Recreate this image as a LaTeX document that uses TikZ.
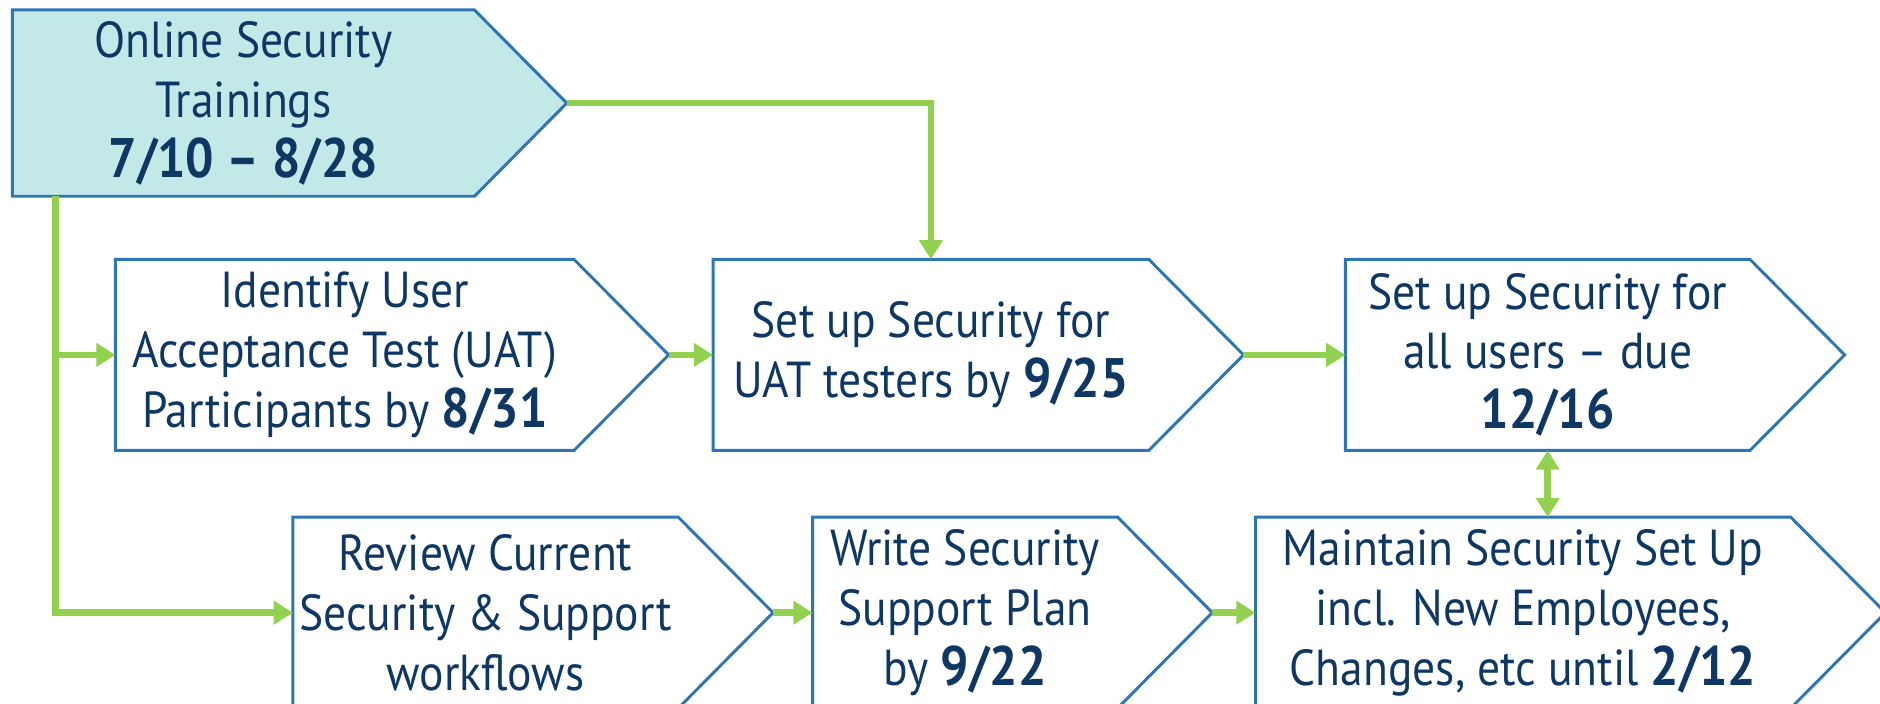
\documentclass[tikz,border=0pt]{standalone}
\usepackage{fontspec}
\setmainfont{PT Sans}[FakeStretch=0.9]
\usetikzlibrary{arrows.meta, positioning, calc, backgrounds}
\definecolor{navytext}{RGB}{14,55,100}
\definecolor{edgeblue}{RGB}{46,117,182}
\definecolor{paleteal}{RGB}{194,233,232}
\definecolor{limegreen}{RGB}{146,208,80}
\newcommand{\due}[1]{{\fontsize{13.2}{14.2}\selectfont\bfseries #1}}

\begin{document}
\begin{tikzpicture}[
    stepbox/.style={
      rectangle,
      inner sep=0pt,
      minimum height=1.58cm,
      align=center,
      text=navytext,
      font=\fontsize{12}{14.2}\selectfont
    },
    chev/.style={draw=edgeblue, line width=0.7pt},
    flow/.style={-{Triangle[length=1.6mm,width=1.9mm]}, line width=1.6pt, draw=limegreen}
]
\useasboundingbox (0,0) rectangle (15.68,-5.87);

\node[stepbox, minimum width=3.84cm, minimum height=1.54cm] (train) at (2.03,-0.86)
  {Online Security\\Trainings\\\due{7/10 -- 8/28}};

% middle row
\node[stepbox, minimum width=3.81cm] (uat) at (2.875,-2.96)
  {Identify User\\Acceptance Test (UAT)\\Participants by \due{8/31}};
\node[stepbox, minimum width=3.62cm, right=1.16cm of uat] (uatsec)
  {Set up Security for\\UAT testers by \due{9/25}};
\node[stepbox, minimum width=3.36cm, right=1.64cm of uatsec] (allsec)
  {Set up Security for\\all users -- due\\\due{12/16}};

% bottom row
\node[stepbox, minimum width=3.20cm] (review) at (4.05,-5.11)
  {Review Current\\Security \& Support\\workflows};
\node[stepbox, minimum width=2.53cm, right=1.12cm of review] (plan)
  {Write Security\\Support Plan\\by \due{9/22}};
\node[stepbox, minimum width=4.45cm, right=1.15cm of plan] (maint)
  {Maintain Security Set Up\\incl. New Employees,\\Changes, etc until \due{2/12}};

\foreach \n in {uat,uatsec,allsec,review,plan,maint}
  \coordinate (\n-tip) at ($(\n.east)+(0.79,0)$);
\coordinate (train-tip) at ($(train.east)+(0.77,0)$);
\coordinate (trunk) at ($(train.south west)+(0.36,0)$);

\begin{scope}[on background layer]
\filldraw[chev, fill=paleteal] (train.north west) -- (train.north east) -- (train-tip)
  -- (train.south east) -- (train.south west) -- cycle;
\foreach \n in {uat,uatsec,allsec,review,plan,maint}
  \filldraw[chev, fill=white] (\n.north west) -- (\n.north east) -- (\n-tip)
    -- (\n.south east) -- (\n.south west) -- cycle;
\end{scope}

\draw[flow] (train-tip) -| (uatsec.north);
\draw[flow] (trunk) |- (uat.west);
\draw[flow] (trunk) |- (review.west);
\draw[flow] (uat-tip) -- (uatsec.west);
\draw[flow] (uatsec-tip) -- (allsec.west);
\draw[flow] (review-tip) -- (plan.west);
\draw[flow] (plan-tip) -- (maint.west);
\draw[flow, {Triangle[length=1.6mm,width=1.9mm]}-{Triangle[length=1.6mm,width=1.9mm]}]
  (allsec.south) -- (allsec.south |- maint.north);
\end{tikzpicture}
\end{document}
